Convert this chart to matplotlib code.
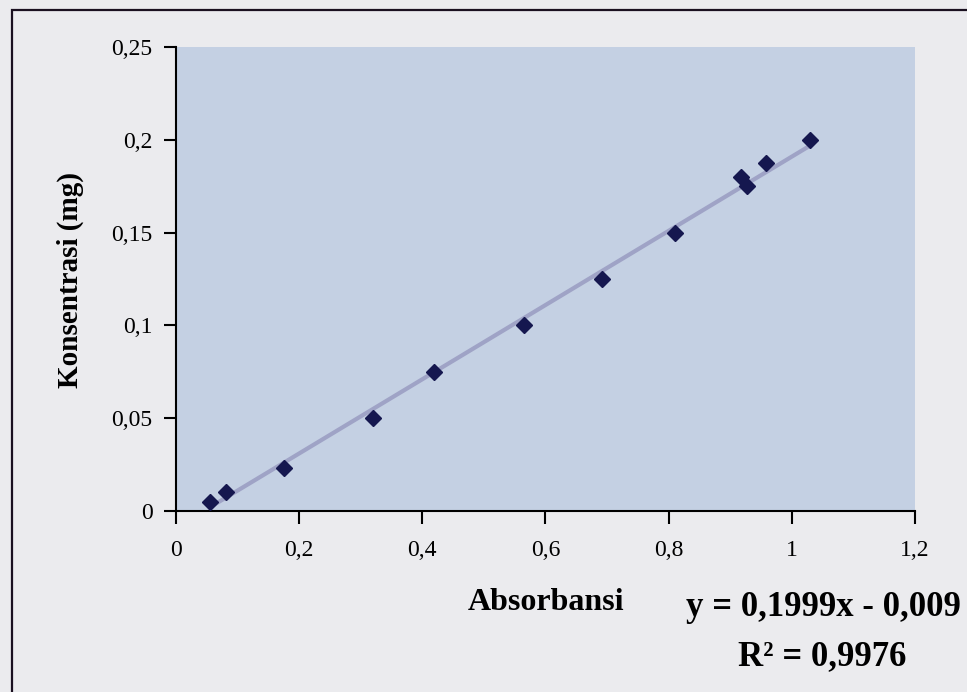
import matplotlib
matplotlib.use('Agg')
import matplotlib.pyplot as plt
from matplotlib.ticker import FuncFormatter
from matplotlib.patches import Rectangle

# absorbance vs concentration readings
absorbansi = [0.055, 0.082, 0.175, 0.32, 0.419, 0.566, 0.692, 0.81, 0.917, 0.928, 0.959, 1.029]
konsentrasi = [0.005, 0.01, 0.023, 0.05, 0.075, 0.1, 0.125, 0.15, 0.18, 0.175, 0.1875, 0.2]
slope, intercept = 0.1999, -0.009
x_ticks = [0, 0.2, 0.4, 0.6, 0.8, 1, 1.2]
y_ticks = [0, 0.05, 0.1, 0.15, 0.2, 0.25]

plt.rcParams['font.family'] = ['Liberation Serif', 'DejaVu Serif']

fig = plt.figure(figsize=(9.67, 6.92), dpi=100)
fig.patch.set_facecolor('#ebebee')
ax = fig.add_axes([0.182, 0.2616, 0.764, 0.6704])
ax.set_facecolor('#c4d0e3')

# outer chart frame
fig.add_artist(Rectangle((12 / 967, -0.05), 1.2, 1 - 10 / 692 + 0.05, transform=fig.transFigure,
                         fill=False, edgecolor='#1a1020', linewidth=1.6))

x_line = [min(absorbansi), max(absorbansi)]
y_line = [slope * v + intercept for v in x_line]
ax.plot(x_line, y_line, color='#9fa3c6', linewidth=3, zorder=2)
ax.plot(absorbansi, konsentrasi, linestyle='none', marker='D', markersize=8.5,
        color='#15174f', zorder=3)

ax.set_xlim(0, 1.2)
ax.set_ylim(0, 0.25)
ax.set_xticks(x_ticks)
ax.set_yticks(y_ticks)
fmt = FuncFormatter(lambda v, p: ('%g' % v).replace('.', ','))
ax.xaxis.set_major_formatter(fmt)
ax.yaxis.set_major_formatter(fmt)
ax.tick_params(axis='both', direction='out', length=9, width=1.5, labelsize=17, color='black',
               pad=12)
ax.tick_params(axis='y', pad=8)
for s in ['top', 'right']:
    ax.spines[s].set_visible(False)
for s in ['left', 'bottom']:
    ax.spines[s].set_linewidth(1.5)

fig.text(70 / 967, 1 - 280 / 692, 'Konsentrasi (mg)', rotation=90, ha='center', va='center',
         fontsize=21, fontweight='bold')
fig.text(546 / 967, 1 - 603 / 692, 'Absorbansi', ha='center', va='center',
         fontsize=23, fontweight='bold')
fig.text(823 / 967, 1 - 608 / 692, 'y = 0,1999x - 0,009', ha='center', va='center',
         fontsize=25, fontweight='bold')
fig.text(822 / 967, 1 - 657 / 692, 'R² = 0,9976', ha='center', va='center',
         fontsize=25, fontweight='bold')

fig.savefig('out.png', dpi=100, facecolor=fig.get_facecolor())
